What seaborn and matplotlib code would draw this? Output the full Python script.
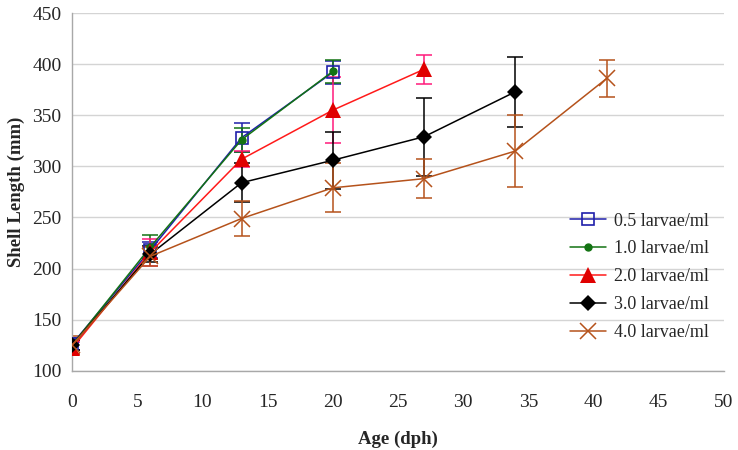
import numpy as np
import pandas as pd
import matplotlib
matplotlib.use("Agg")
import matplotlib.pyplot as plt
import seaborn as sns

# ==========================
# DATA
# ==========================

labels = ["0.5 larvae/ml", "1.0 larvae/ml", "2.0 larvae/ml",
          "3.0 larvae/ml", "4.0 larvae/ml"]

age_05 = [0, 6, 13, 20]
len_05 = [126, 218, 328, 392]
err_05 = [6, 8, 14, 11]

age_10 = [0, 6, 13, 20]
len_10 = [125, 221, 326, 393]
err_10 = [5, 12, 12, 11]

age_20 = [0, 6, 13, 20, 27]
len_20 = [122, 216, 307, 355, 395]
err_20 = [6, 13, 8, 32, 14]

age_30 = [0, 6, 13, 20, 27, 34]
len_30 = [125, 214, 284, 306, 329, 373]
err_30 = [5, 8, 19, 28, 38, 34]

age_40 = [0, 6, 13, 20, 27, 34, 41]
len_40 = [125, 212, 249, 279, 288, 315, 386]
err_40 = [9, 9, 17, 24, 19, 35, 18]

x_ticks = list(range(0, 51, 5))
y_ticks = list(range(100, 451, 50))

# ==========================
# STYLE
# ==========================

sns.set_style("white")
plt.rcParams["font.family"] = ["Liberation Serif", "DejaVu Serif"]

series = [
    dict(age=age_05, val=len_05, err=err_05, color="#1F1FAA", ecolor="#1F1FAA",
         marker="s", ms=9, mfc="none", mew=1.2),
    dict(age=age_10, val=len_10, err=err_10, color="#137313", ecolor="#137313",
         marker="o", ms=5, mfc="#137313", mew=1),
    dict(age=age_20, val=len_20, err=err_20, color="#FF1A1A", ecolor="#FF1A7A",
         marker="^", ms=11, mfc="#E00000", mew=0),
    dict(age=age_30, val=len_30, err=err_30, color="#000000", ecolor="#000000",
         marker="D", ms=8, mfc="#000000", mew=0),
    dict(age=age_40, val=len_40, err=err_40, color="#B5521B", ecolor="#B5521B",
         marker="x", ms=12, mfc="#B5521B", mew=1.1),
]

fig, ax = plt.subplots(figsize=(7.38, 4.5), dpi=100)
fig.subplots_adjust(left=0.0976, right=0.981, top=0.971, bottom=0.176)

for lab, s in zip(labels, series):
    df = pd.DataFrame({"Age": s["age"], "Length": s["val"]})
    ax.errorbar(
        df["Age"], df["Length"], yerr=s["err"],
        fmt="none", ecolor=s["ecolor"], elinewidth=1.1,
        capsize=5.5, capthick=1.1, zorder=2
    )
    sns.lineplot(
        data=df, x="Age", y="Length", ax=ax,
        color=s["color"], linewidth=1.1,
        marker=s["marker"], markersize=s["ms"],
        markerfacecolor=s["mfc"], markeredgecolor=s["color"] if s["mew"] else s["mfc"],
        markeredgewidth=s["mew"], label=lab, zorder=3
    )

ax.set_xlim(0, 50)
ax.set_ylim(100, 450)
ax.set_xticks(x_ticks)
ax.set_yticks(y_ticks)

ax.yaxis.grid(True, color="#D4D4D4", linewidth=1)
ax.set_axisbelow(True)

for side in ["top", "right"]:
    ax.spines[side].set_visible(False)
for side in ["left", "bottom"]:
    ax.spines[side].set_color("#A8A8A8")
    ax.spines[side].set_linewidth(1)

ax.tick_params(axis="x", direction="out", length=3.6, width=1, color="#A8A8A8",
               pad=13, labelsize=14)
ax.tick_params(axis="y", direction="out", length=3.6, width=1, color="#A8A8A8",
               pad=4, labelsize=14)

ax.set_xlabel("Age (dph)", fontsize=13.5, fontweight="bold", labelpad=14)
ax.set_ylabel("Shell Length (mm)", fontsize=13.5, fontweight="bold", labelpad=5)

ax.legend(
    loc="center left",
    bbox_to_anchor=(0.745, 0.263),
    frameon=False,
    fontsize=13,
    handlelength=2.0,
    handletextpad=0.4,
    labelspacing=0.6,
    borderpad=0.2
)

plt.savefig("out.png", dpi=100)
